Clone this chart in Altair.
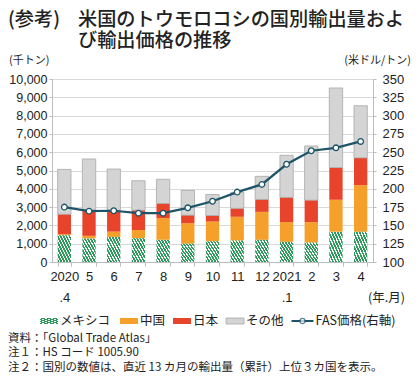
import altair as alt
import pandas as pd

# ---------------- data ----------------
months = ["2020.4", "5", "6", "7", "8", "9", "10", "11", "12", "2021.1", "2", "3", "4"]
mexico = [1460, 1280, 1370, 1300, 1210, 1000, 1130, 1170, 1210, 1100, 1060, 1650, 1650]
china = [60, 150, 290, 450, 1190, 1120, 1080, 1300, 1530, 1080, 1120, 1750, 2550]
japan = [1090, 1420, 1170, 1080, 800, 440, 330, 460, 680, 1350, 1200, 1760, 1490]
other = [2450, 2780, 2250, 1610, 1320, 1350, 1150, 870, 1260, 2300, 2960, 4350, 2850]
fas_price = [175, 169.5, 170, 166.7, 166.7, 174, 183, 195.5, 206, 233.5, 252, 256, 264.7]

countries = ["メキシコ", "中国", "日本", "その他"]
series = [mexico, china, japan, other]
colors = ["#2f9a5b", "#f5a02a", "#e8432b", "#d4d4d4"]

title1a = "(参考)"
title1b = "米国のトウモロコシの国別輸出量およ"
title2 = "び輸出価格の推移"
left_unit = "(千トン)"
right_unit = "(米ドル/トン)"
x_unit = "(年.月)"
line_label = "FAS価格(右軸)"
notes = [
    "資料：「Global Trade Atlas」",
    "注１：HS コード 1005.90",
    "注２：国別の数値は、直近 13 カ月の輸出量（累計）上位３カ国を表示。",
]

# ---------------- tables ----------------
rows = []
for i, m in enumerate(months):
    base = 0
    for c, s in zip(countries, series):
        rows.append({"month": m, "country": c, "lo": base, "hi": base + s[i]})
        base += s[i]
bars_df = pd.DataFrame(rows)
line_df = pd.DataFrame({"month": months, "fas": fas_price})
dummy = pd.DataFrame({"a": [0]})

JP = "Noto Sans CJK JP"
NUM = "Liberation Sans"
TXT = "#222222"
AXC = "#bdbdbd"

OX = 44   # plot-area offset inside the svg (left)
OY = 71   # plot-area offset inside the svg (top)
W, H = 321, 183


def hatch(n=9, frac=0.6, c1="#2f9a5b", c2="#ffffff"):
    stops = []
    for i in range(n):
        a, b, c = i / n, (i + frac) / n, (i + 1) / n
        stops += [
            alt.GradientStop(offset=a, color=c1),
            alt.GradientStop(offset=b, color=c1),
            alt.GradientStop(offset=b, color=c2),
            alt.GradientStop(offset=c, color=c2),
        ]
    return alt.LinearGradient(gradient="linear", stops=stops, x1=0, y1=1, x2=1, y2=0)


xenc = alt.X(
    "month:N",
    sort=months,
    scale=alt.Scale(paddingInner=0.46, paddingOuter=0.23),
    axis=alt.Axis(
        title=None,
        labelAngle=0,
        tickBand="extent",
        labelExpr="indexof(datum.label, '.') > 0 ? [slice(datum.label, 0, 4), slice(datum.label, 4)] : datum.label",
        labelFont=NUM,
        labelFontSize=13,
        labelColor=TXT,
        labelLineHeight=21,
        labelPadding=4,
        domainColor=AXC,
        tickColor=AXC,
        tickSize=4,
        grid=False,
    ),
)

yleft = alt.Y(
    "lo:Q",
    scale=alt.Scale(domain=[0, 10000], nice=False),
    axis=alt.Axis(
        title=None,
        values=list(range(0, 10001, 1000)),
        format=",.0f",
        labelFont=NUM,
        labelFontSize=12.5,
        labelColor=TXT,
        labelPadding=2,
        tickSize=3,
        tickColor=AXC,
        domainColor=AXC,
        gridColor="#d9d9d9",
        grid=True,
    ),
)

stack_layers = []
for c, col in zip(countries[1:], colors[1:]):
    stroke_kw = {"stroke": "#a8a8a8", "strokeWidth": 0.8} if c == "その他" else {}
    stack_layers.append(
        alt.Chart(bars_df)
        .transform_filter(alt.datum.country == c)
        .mark_bar(color=col, **stroke_kw)
        .encode(x=xenc, y=yleft, y2="hi:Q")
    )

mex_layer = (
    alt.Chart(bars_df)
    .transform_filter(alt.datum.country == "メキシコ")
    .mark_bar(color=hatch())
    .encode(x=xenc, y=yleft, y2="hi:Q")
)

bars = alt.layer(*stack_layers, mex_layer)

line = (
    alt.Chart(line_df)
    .mark_line(
        color="#1d5467",
        strokeWidth=2.2,
        point=alt.OverlayMarkDef(filled=True, fill="white", stroke="#1d5467", strokeWidth=1.3, size=32),
    )
    .encode(
        x=alt.X("month:N", sort=months),
        y=alt.Y(
            "fas:Q",
            scale=alt.Scale(domain=[100, 350], nice=False),
            axis=alt.Axis(
                title=None,
                orient="right",
                values=list(range(100, 351, 25)),
                labelFont=NUM,
                labelFontSize=13,
                labelColor=TXT,
                labelPadding=6,
                tickSize=3,
                tickColor=AXC,
                domainColor=AXC,
                grid=False,
            ),
        ),
    )
)


def txt(s, sx, sy, size=12, align="left", font=JP, weight="normal"):
    # sx, sy: position inside the svg; converted to plot-area coordinates
    return alt.Chart(dummy).mark_text(
        text=s, align=align, baseline="middle", font=font, fontSize=size,
        fontWeight=weight, color=TXT,
    ).encode(x=alt.value(sx - OX), y=alt.value(sy - OY))


def rect(x1, x2, y1, y2, color, stroke=None):
    kw = {"stroke": stroke, "strokeWidth": 0.8} if stroke else {}
    return alt.Chart(dummy).mark_rect(color=color, **kw).encode(
        x=alt.value(x1 - OX), x2=alt.value(x2 - OX), y=alt.value(y1 - OY), y2=alt.value(y2 - OY)
    )


ann = [
    txt(title1a, 0, 11.5, size=19.2, weight=500),
    txt(title1b, 70, 11.5, size=19.2, weight=500),
    txt(title2, 70, 33, size=19.2, weight=500),
    txt(left_unit, 1, 53, size=11),
    txt(right_unit, 403, 53, size=11, align="right"),
    txt(x_unit, 397, 290, size=12.5, align="right"),
]
for k, n in enumerate(notes):
    ann.append(txt(n, 0, 331 + 14.4 * k, size=11.5))

# legend
ly = 313
lx = 32
leg = []
leg.append(rect(lx, lx + 18, ly - 3, ly + 3, hatch(n=6)))
leg.append(txt(countries[0], lx + 20, ly, size=12.5))
lx2 = lx + 20 + 52 + 8
for c, col in zip(countries[1:], colors[1:]):
    leg.append(rect(lx2, lx2 + 18, ly - 3, ly + 3, col, stroke="#a8a8a8" if c == "その他" else None))
    leg.append(txt(c, lx2 + 20, ly, size=12.5))
    lx2 = lx2 + 20 + 12.5 * len(c) + 8
leg.append(
    alt.Chart(dummy).mark_rule(color="#1d5467", strokeWidth=2).encode(
        x=alt.value(lx2 - OX), x2=alt.value(lx2 + 22 - OX), y=alt.value(ly - OY)
    )
)
leg.append(
    alt.Chart(dummy).mark_point(filled=True, fill="white", stroke="#1d5467", strokeWidth=1.2, size=26).encode(
        x=alt.value(lx2 + 11 - OX), y=alt.value(ly - OY)
    )
)
leg.append(txt(line_label, lx2 + 24, ly, size=12.5))

chart = (
    alt.layer(bars, line, *ann, *leg)
    .resolve_scale(y="independent")
    .properties(
        width=W,
        height=H,
        autosize="none",
        padding={"left": OX, "top": OY, "right": 404 - OX - W, "bottom": 366 - OY - H},
        background="white",
    )
    .configure_view(stroke=None)
)

chart.save("out.html", embed_options={"renderer": "svg", "actions": False})
